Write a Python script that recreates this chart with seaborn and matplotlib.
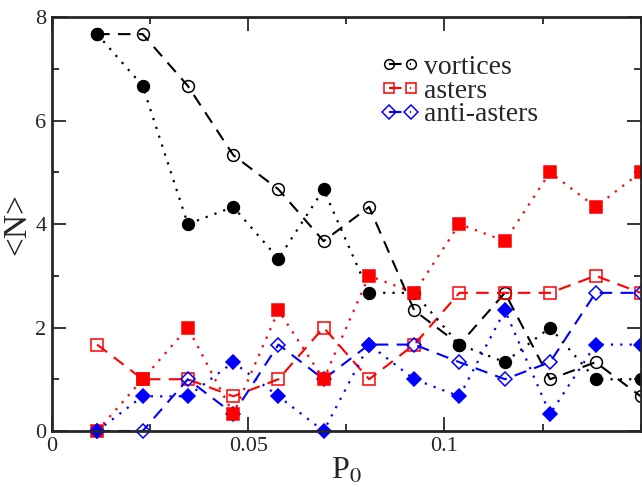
import matplotlib
matplotlib.use("Agg")
import matplotlib.pyplot as plt
import seaborn as sns
import pandas as pd
from matplotlib.ticker import MultipleLocator, FixedLocator, FixedFormatter

# P0 values (13 points, last one at the right edge)
p0 = [0.0115, 0.0231, 0.0346, 0.0462, 0.0577, 0.0692, 0.0808,
      0.0923, 0.1038, 0.1154, 0.1269, 0.1385, 0.15]

# open symbols, dashed lines
vortices_open = [7.67, 7.67, 6.67, 5.33, 4.67, 3.67, 4.33, 2.33, 1.67, 2.67, 1.0, 1.33, 0.67]
asters_open = [1.67, 1.0, 1.0, 0.67, 1.0, 2.0, 1.0, 1.67, 2.67, 2.67, 2.67, 3.0, 2.67]
anti_open = [0.0, 0.0, 1.0, 0.33, 1.67, 1.0, 1.67, 1.67, 1.33, 1.0, 1.33, 2.67, 2.67]

# filled symbols, dotted lines
vortices_full = [7.67, 6.67, 4.0, 4.33, 3.33, 4.67, 2.67, 2.67, 1.67, 1.33, 2.0, 1.0, 1.0]
asters_full = [0.0, 1.0, 2.0, 0.33, 2.33, 1.0, 3.0, 2.67, 4.0, 3.67, 5.0, 4.33, 5.0]
anti_full = [0.0, 0.67, 0.67, 1.33, 0.67, 0.0, 1.67, 1.0, 0.67, 2.33, 0.33, 1.67, 1.67]

labels = ["vortices", "asters", "anti-asters"]
colors = ["black", "red", "blue"]
markers = ["o", "s", "D"]
msizes = [8.5, 8, 7]

sns.set_style("ticks")
plt.rcParams["font.family"] = ["Liberation Serif", "DejaVu Serif"]
plt.rcParams["mathtext.fontset"] = "stix"

fig = plt.figure(figsize=(6.42, 4.87), dpi=100)
ax = fig.add_axes([0.081, 0.115, 0.917, 0.85])

handles = []
for vals, lab, c, m, ms in zip([vortices_open, asters_open, anti_open], labels, colors, markers, msizes):
    df = pd.DataFrame({"p0": p0, "n": vals})
    sns.lineplot(data=df, x="p0", y="n", ax=ax, color=c, marker=m, markersize=ms,
                 markerfacecolor="none", markeredgecolor=c, markeredgewidth=1.1,
                 linestyle=(0, (6, 4)), linewidth=1.5, clip_on=False, legend=False)
    handles.append(ax.lines[-1])

for vals, c, m, ms in zip([vortices_full, asters_full, anti_full], colors, markers, msizes):
    df = pd.DataFrame({"p0": p0, "n": vals})
    sns.lineplot(data=df, x="p0", y="n", ax=ax, color=c, marker=m, markersize=ms,
                 markerfacecolor=c, markeredgecolor=c, markeredgewidth=1.1,
                 linestyle=(0, (1, 3.2)), linewidth=1.6, clip_on=False, legend=False)

ax.set_xlim(0, 0.15)
ax.set_ylim(0, 8)
ax.xaxis.set_major_locator(FixedLocator([0, 0.05, 0.1]))
ax.xaxis.set_major_formatter(FixedFormatter(["0", "0.05", "0.1"]))
ax.xaxis.set_minor_locator(MultipleLocator(0.025))
ax.yaxis.set_major_locator(MultipleLocator(2))
ax.yaxis.set_minor_locator(MultipleLocator(1))
ax.tick_params(which="both", direction="in", top=True, right=True, width=1.3)
ax.tick_params(which="major", length=10, labelsize=16, pad=4)
ax.tick_params(which="minor", length=5)
for s in ax.spines.values():
    s.set_linewidth(2)
    s.set_visible(True)

ax.set_xlabel(r"P$_0$", fontsize=23, labelpad=1)
ax.set_ylabel("<N>", fontsize=24, labelpad=2)

leg = ax.legend(handles=handles, labels=labels, numpoints=2, frameon=False,
                loc="upper left", bbox_to_anchor=(0.525, 0.957), fontsize=20,
                handlelength=1.39, handletextpad=0.17, labelspacing=-0.06,
                borderpad=0.2)
for h in leg.legend_handles:
    h.set_markersize(7)

fig.savefig("out.png", dpi=100)
